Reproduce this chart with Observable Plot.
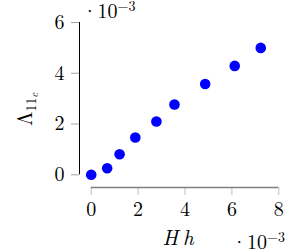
<!DOCTYPE html>
<html><head><meta charset="utf-8">
<script src="https://cdn.jsdelivr.net/npm/d3@7"></script>
<script src="https://cdn.jsdelivr.net/npm/@observablehq/plot@0.6"></script>
<style>html,body{margin:0;padding:0;background:#fff} svg{display:block} svg text{font-family:"Latin Modern Roman","Liberation Serif",serif !important}</style>
</head><body><div id="chart"></div>
<script>
const hh = [0, 0.68, 1.21, 1.88, 2.78, 3.55, 4.86, 6.12, 7.23];
const lambda = [0, 0.26, 0.81, 1.47, 2.1, 2.77, 3.58, 4.29, 5.0];
const xTicks = [0, 2, 4, 6, 8];
const yTicks = [0, 2, 4, 6];
const xDomain = [-0.5, 8];
const yDomain = [-0.5, 6];
const xLabel = "Hh";
const yLabelMain = "Λ";
const yLabelSub = "11";
const yLabelSubSub = "c";
const exponentText = "−3";

const data = hh.map((x, i) => ({x, y: lambda[i]}));
const font = "'Latin Modern Roman', 'Liberation Serif', serif";

const chart = Plot.plot({
  width: 290, height: 251,
  marginLeft: 79, marginRight: 11.7, marginTop: 22, marginBottom: 64,
  style: {fontFamily: font, fontSize: "20px", background: "white", color: "black", overflow: "visible"},
  x: {domain: xDomain},
  y: {domain: yDomain},
  marks: [
    Plot.axisX({ticks: xTicks, tickSize: 8, tickPadding: 6, stroke: "#bfbfbf", fill: "black", label: null, fontSize: 20, tickFormat: d => String(d)}),
    Plot.axisY({ticks: yTicks, tickSize: 8, tickPadding: 7, stroke: "#a6a6a6", fill: "black", label: null, fontSize: 20, tickFormat: d => String(d)}),
    Plot.ruleY([yDomain[0]], {x1: xTicks[0], x2: xTicks[xTicks.length - 1], stroke: "#808080", strokeWidth: 1.6}),
    Plot.ruleX([xDomain[0]], {y1: yTicks[0], y2: yTicks[yTicks.length - 1], stroke: "black", strokeWidth: 1}),
    Plot.dot(data, {x: "x", y: "y", r: 5.3, fill: "#0000ff", stroke: "none"})
  ]
});
document.getElementById("chart").appendChild(chart);

const sx = chart.scale("x"), sy = chart.scale("y");
const svg = d3.select(chart);
const xMid = (sx.apply(xDomain[0]) + sx.apply(xDomain[1])) / 2;
const yMid = (sy.apply(yDomain[0]) + sy.apply(yDomain[1])) / 2;

// x axis label
svg.append("text").attr("x", xMid + 2).attr("y", 245).attr("text-anchor", "middle")
  .attr("font-family", font).attr("font-style", "italic").attr("font-size", 21)
  .attr("letter-spacing", 5).text(xLabel);

// y axis label
const yl = svg.append("text").attr("transform", `translate(32,${yMid + 5}) rotate(-90)`)
  .attr("text-anchor", "middle").attr("font-family", font).attr("font-size", 21);
yl.append("tspan").text(yLabelMain);
yl.append("tspan").attr("font-size", 14).attr("dy", 4).text(yLabelSub);
yl.append("tspan").attr("font-size", 10).attr("dy", 2).attr("font-style", "italic").text(yLabelSubSub);

function exponent(x, y, anchor) {
  const t = svg.append("text").attr("x", x).attr("y", y).attr("text-anchor", anchor)
    .attr("font-family", font).attr("font-size", 20);
  t.append("tspan").text("·10");
  t.append("tspan").attr("font-size", 14).attr("dy", -7).text(exponentText);
}
exponent(82, 18, "start");
exponent(285, 249, "end");
</script></body></html>
